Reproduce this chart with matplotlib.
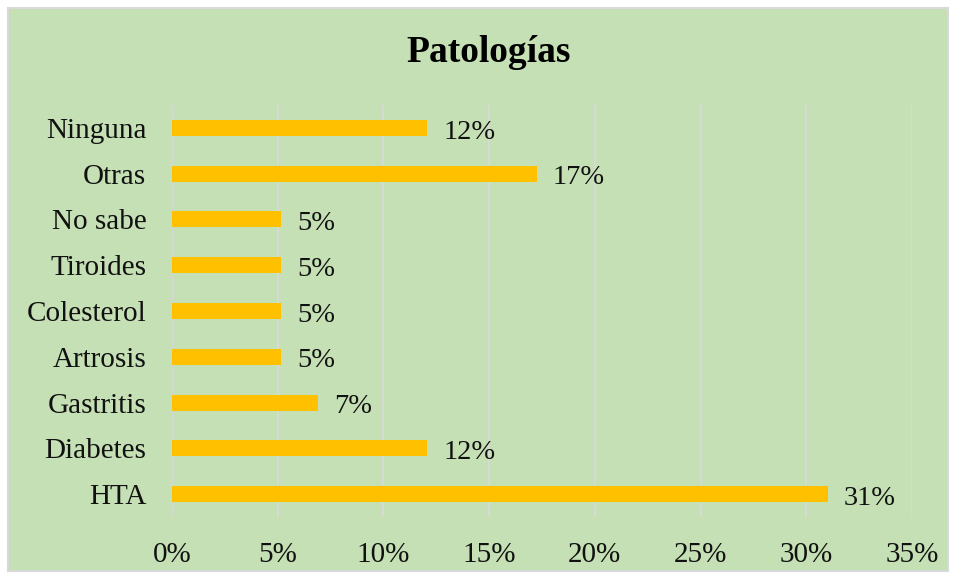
import matplotlib
matplotlib.use("Agg")
import matplotlib.pyplot as plt
from matplotlib.patches import Rectangle
from matplotlib.ticker import PercentFormatter

categories = ["HTA", "Diabetes", "Gastritis", "Artrosis", "Colesterol",
              "Tiroides", "No sabe", "Otras", "Ninguna"]
values = [0.3103, 0.1207, 0.0690, 0.0517, 0.0517, 0.0517, 0.0517, 0.1724, 0.1207]
labels = ["31%", "12%", "7%", "5%", "5%", "5%", "5%", "17%", "12%"]
xticks = [0, 0.05, 0.10, 0.15, 0.20, 0.25, 0.30, 0.35]
title = "Patologías"

plt.rcParams['font.family'] = ['Liberation Serif', 'DejaVu Serif']

W, H = 956, 579
fig = plt.figure(figsize=(W / 100, H / 100), dpi=100)
fig.patch.set_facecolor("white")
green = "#C5E0B4"
fig.add_artist(Rectangle((8 / W, 8 / H), (W - 16) / W, (H - 16) / H,
                         transform=fig.transFigure, facecolor=green,
                         edgecolor="#D9D9D9", linewidth=1.5, zorder=0))

ax = fig.add_axes([172 / W, (H - 517) / H, (912 - 172) / W, (517 - 105) / H])
ax.set_facecolor("none")
y = list(range(len(categories)))
ax.barh(y, values, height=0.35, color="#FFC000", zorder=3)
for yi, v, lab in zip(y, values, labels):
    ax.annotate(lab, (v, yi), xytext=(11.5, -3), textcoords="offset points",
                ha="left", va="center", fontsize=20.5, color="#111111")

ax.set_xlim(0, 0.35)
ax.set_ylim(-0.5, len(categories) - 0.5)
ax.set_xticks(xticks)
ax.xaxis.set_major_formatter(PercentFormatter(1.0, decimals=0))
ax.set_yticks(y)
ax.set_yticklabels(categories)
ax.tick_params(axis="both", length=0, labelsize=21, colors="#111111")
ax.tick_params(axis="y", pad=18.5)
ax.tick_params(axis="x", pad=18)
ax.grid(axis="x", color="#D9D9D9", linewidth=1.3, zorder=0)
for s in ax.spines.values():
    s.set_visible(False)

fig.text(489 / W, 1 - 53 / H, title, ha="center", va="center",
         fontsize=27, fontweight="bold", color="black")

fig.savefig("out.png", dpi=100, facecolor=fig.get_facecolor())
